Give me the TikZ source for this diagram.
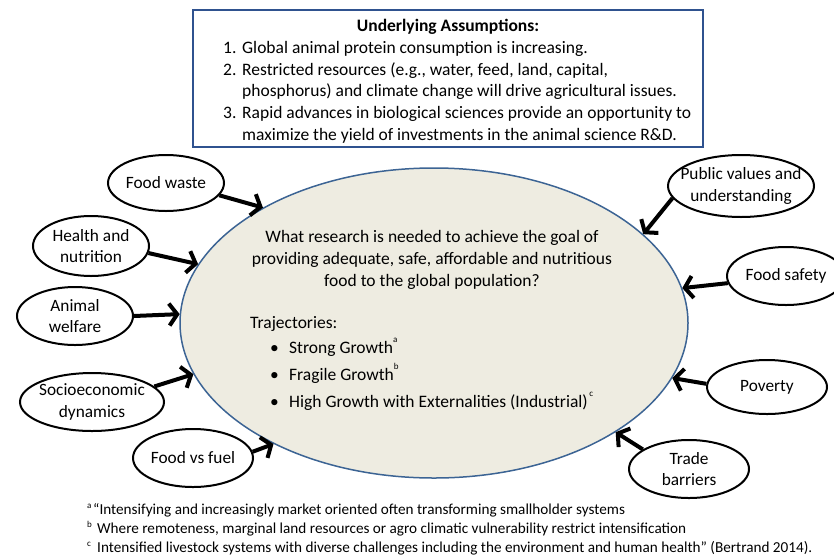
\documentclass[tikz,border=0pt]{standalone}
\usepackage{fontspec}
\setmainfont{Carlito}
\usetikzlibrary{shapes.geometric,arrows.meta}
\definecolor{beige}{HTML}{EEECE1}
\definecolor{rim}{HTML}{3C6494}
\definecolor{boxblue}{HTML}{2F528F}
\begin{document}
\begin{tikzpicture}[x=1pt,y=-1pt,
  every node/.style={font=\fontsize{17.5}{21.5}\selectfont, inner sep=0pt},
  side/.style={ellipse, draw=black, line width=2pt, fill=white},
  stxt/.style={align=center, font=\fontsize{17.3}{21.5}\selectfont},
  arr/.style={line width=4pt, -{Straight Barb[length=8pt,width=22pt,line width=4pt]}},
  txt/.style={anchor=base west},
  ctr/.style={anchor=base},
  foot/.style={anchor=base west, font=\fontsize{15.2}{19}\selectfont},
  sup/.style={anchor=base west, font=\fontsize{9}{9}\selectfont}]
\useasboundingbox (0,0) rectangle (834,557);
% top box
\node[draw=boxblue, line width=2.5pt, fill=white, minimum width=510pt, minimum height=137pt] (box) at (448,78.5) {};
\node[ctr] (hd) at (448,31.5) {\bfseries Underlying Assumptions:};
\node[txt] (n1) at (223,53) {1.};
\node[txt] (l1) at (242,53) {Global animal protein consumption is increasing.};
\node[txt] (n2) at (223,75) {2.};
\node[txt] (l2) at (242,75) {Restricted resources (e.g., water, feed, land, capital,};
\node[txt] (l2b) at (242,96.8) {phosphorus) and climate change will drive agricultural issues.};
\node[txt] (n3) at (223,118.6) {3.};
\node[txt] (l3) at (242,118.6) {Rapid advances in biological sciences provide an opportunity to};
\node[txt] (l3b) at (242,140.4) {maximize the yield of investments in the animal science R\&D.};
% main ellipse
\node[ellipse, draw=rim, line width=1.5pt, fill=beige, minimum width=508pt, minimum height=310pt] (main) at (434,323) {};
\node[ctr] (q1) at (432,242) {What research is needed to achieve the goal of};
\node[ctr] (q2) at (432,264) {providing adequate, safe, affordable and nutritious};
\node[ctr] (q3) at (432,286) {food to the global population?};
\node[txt] (tr) at (250,328) {Trajectories:};
\node[txt] (b1) at (270,353) {\textbullet};
\node[txt] (t1) at (289,353) {Strong Growth\raisebox{11pt}{\fontsize{9}{9}\selectfont a}};
\node[txt] (b2) at (270,380) {\textbullet};
\node[txt] (t2) at (289,380) {Fragile Growth\raisebox{11pt}{\fontsize{9}{9}\selectfont b}};
\node[txt] (b3) at (270,407) {\textbullet};
\node[txt] (t3) at (289,407) {High Growth with Externalities (Industrial)\raisebox{11pt}{\fontsize{9}{9}\selectfont\,c}};
% side ellipses
\node[side, minimum width=116pt, minimum height=56pt] (fw) at (166,183) {};
\node[stxt] at (fw.center) {Food waste};
\node[side, minimum width=116pt, minimum height=60pt] (hn) at (91,246) {};
\node[stxt] at (hn.center) {Health and\\nutrition};
\node[side, minimum width=116pt, minimum height=58pt] (aw) at (75,316) {};
\node[stxt] at (aw.center) {Animal\\welfare};
\node[side, minimum width=144pt, minimum height=58pt] (sd) at (92,402) {};
\node[stxt] at (sd.center) {Socioeconomic\\dynamics};
\node[side, minimum width=120pt, minimum height=58pt] (fv) at (193,458) {};
\node[stxt] at (fv.center) {Food vs fuel};
\node[side, minimum width=146pt, minimum height=62pt] (pv) at (741,186) {};
\node[stxt] at (pv.center) {Public values and\\understanding};
\node[side, minimum width=118pt, minimum height=58pt] (fs) at (786,276) {};
\node[stxt] at (fs.center) {Food safety};
\node[side, minimum width=120pt, minimum height=54pt] (po) at (767,387) {};
\node[stxt] at (po.center) {Poverty};
\node[side, minimum width=120pt, minimum height=58pt] (tb) at (689,469) {};
\node[stxt] at (tb.center) {Trade\\barriers};
% arrows
\draw[arr] (fw.-13) -- (main.146.7);
\draw[arr] (hn.-7) -- (main.166.4);
\draw[arr] (aw.0) -- (main.178.4);
\draw[arr] (sd.14.7) -- (main.192.4);
\draw[arr] (fv.6) -- (main.217.8);
\draw[arr] (pv.190.8) -- (main.23.6);
\draw[arr] (fs.187) -- (main.8);
\draw[arr] (po.177) -- (main.-13.7);
\draw[arr] (tb.157.6) -- (main.-31.2);
% footnotes
\node[sup] (fa) at (87,508) {a};
\node[foot] (f1) at (93,514) {``Intensifying and increasingly market oriented often transforming smallholder systems};
\node[sup] (fb) at (87,527) {b};
\node[foot] (f2) at (97,533) {Where remoteness, marginal land resources or agro climatic vulnerability restrict intensification};
\node[sup] (fc) at (87,546) {c};
\node[foot] (f3) at (97,552) {Intensified livestock systems with diverse challenges including the environment and human health'' (Bertrand 2014).};
\end{tikzpicture}
\end{document}
